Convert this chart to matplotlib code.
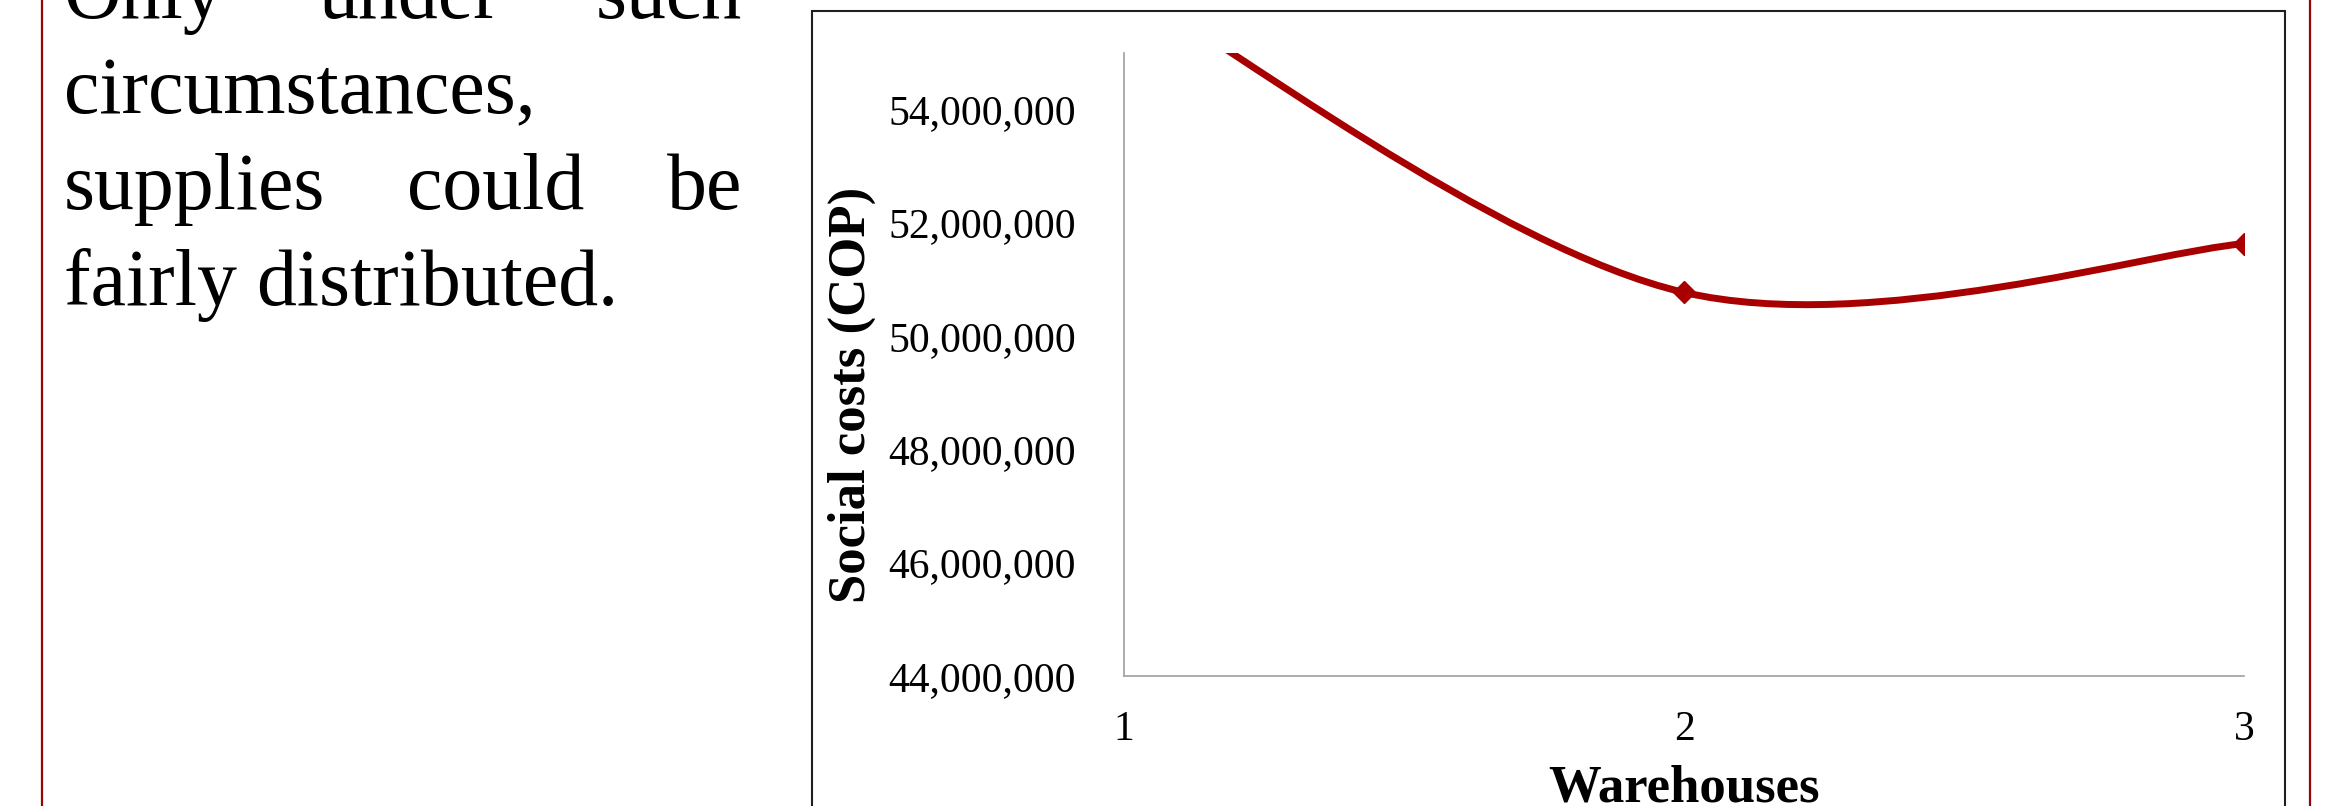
import matplotlib
matplotlib.use("Agg")
import matplotlib.pyplot as plt
from matplotlib.path import Path
from matplotlib.patches import PathPatch, Rectangle
from matplotlib.lines import Line2D
from matplotlib.ticker import StrMethodFormatter

# ---- data -------------------------------------------------------------
warehouses = [1, 2, 3]
social_costs = [56_200_000, 50_770_000, 51_630_000]
y_ticks = [44_000_000, 46_000_000, 48_000_000, 50_000_000, 52_000_000, 54_000_000]
x_ticks = [1, 2, 3]

paragraph_lines = [
    ["Only", "under", "such"],
    ["circumstances,"],
    ["supplies", "could", "be"],
    ["fairly", "distributed."],
]
justified = [True, False, True, False]

# ---- figure -----------------------------------------------------------
plt.rcParams["font.family"] = ["Liberation Serif", "DejaVu Serif"]
W, H, DPI = 2345, 806, 100
fig = plt.figure(figsize=(W / DPI, H / DPI), dpi=DPI)
fig.patch.set_facecolor("white")


def fx(px):
    return px / W


def fy(py):
    return 1 - py / H


# poster column borders
for xpx in (42, 2310):
    fig.add_artist(Line2D([fx(xpx), fx(xpx)], [0, 1], transform=fig.transFigure,
                          color="#950505", lw=1.6))

# chart frame
fig.add_artist(Rectangle((fx(812), fy(900)), fx(2285) - fx(812), fy(11) - fy(900),
                         transform=fig.transFigure, fill=False,
                         edgecolor="#1f1f1f", lw=1.5, clip_on=False))

# ---- plot -------------------------------------------------------------
ax = fig.add_axes([fx(1124), fy(676), fx(2244) - fx(1124), fy(52.7) - fy(676)])
ax.set_xlim(1, 3)
ax.set_ylim(44_000_000, 55_000_000)
ax.patch.set_alpha(0)

# smoothed line through the points (cubic Bezier segments)
n = len(warehouses)
verts = [(warehouses[0], social_costs[0])]
codes = [Path.MOVETO]
for i in range(n - 1):
    p_prev = (warehouses[max(i - 1, 0)], social_costs[max(i - 1, 0)])
    p0 = (warehouses[i], social_costs[i])
    p1 = (warehouses[i + 1], social_costs[i + 1])
    p_next = (warehouses[min(i + 2, n - 1)], social_costs[min(i + 2, n - 1)])
    c1 = (p0[0] + (p1[0] - p_prev[0]) / 6, p0[1] + (p1[1] - p_prev[1]) / 6)
    c2 = (p1[0] - (p_next[0] - p0[0]) / 6, p1[1] - (p_next[1] - p0[1]) / 6)
    verts += [c1, c2, p1]
    codes += [Path.CURVE4] * 3
ax.add_patch(PathPatch(Path(verts, codes), facecolor="none", edgecolor="#A80000",
                       lw=5, capstyle="round", joinstyle="round"))
ax.plot(warehouses, social_costs, linestyle="none", marker="D", ms=11.5,
        color="#A80000", mec="#A80000", mew=1)

for side in ("top", "right"):
    ax.spines[side].set_visible(False)
for side in ("left", "bottom"):
    ax.spines[side].set_color("#a0a0a0")
    ax.spines[side].set_linewidth(1.2)

ax.set_yticks(y_ticks)
ax.set_xticks(x_ticks)
ax.yaxis.set_major_formatter(StrMethodFormatter("{x:,.0f}"))
ax.tick_params(axis="y", length=0, pad=34.5, labelsize=30)
ax.tick_params(axis="x", length=0, pad=25, labelsize=30)

fig.text(fx(852), fy(394.5), "Social costs (COP)", rotation=90, ha="center",
         va="center", fontsize=38, fontweight="bold")
fig.text(fx(1684), fy(802), "Warehouses", ha="center", va="baseline",
         fontsize=38, fontweight="bold")

# ---- paragraph --------------------------------------------------------
baselines = [18, 113, 209, 305]
left_px, right_px = 64, 742
fig.canvas.draw()
renderer = fig.canvas.get_renderer()
for words, just, base in zip(paragraph_lines, justified, baselines):
    if just and len(words) > 1:
        arts = [fig.text(0, fy(base), w, fontsize=57.5, va="baseline", ha="left")
                for w in words]
        widths = [a.get_window_extent(renderer).width for a in arts]
        gap = (right_px - left_px - sum(widths)) / (len(words) - 1)
        x = left_px
        for a, wdt in zip(arts, widths):
            a.set_x(fx(x))
            x += wdt + gap
    else:
        fig.text(fx(left_px), fy(base), " ".join(words), fontsize=57.5,
                 va="baseline", ha="left")

fig.savefig("out.png", dpi=DPI)
